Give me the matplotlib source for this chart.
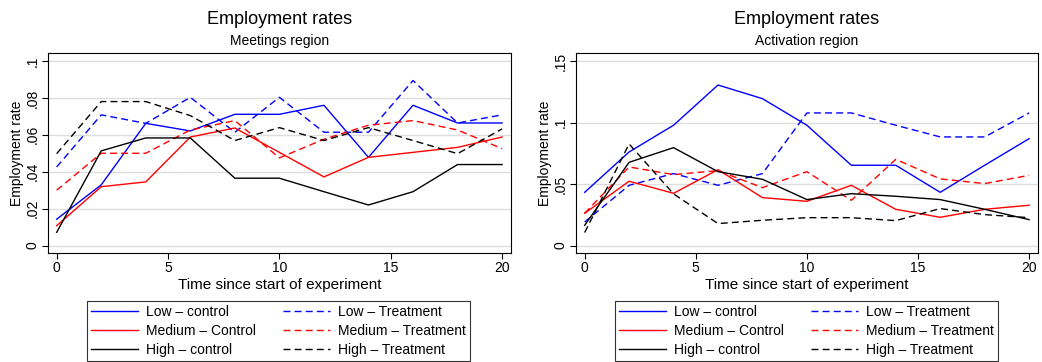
import matplotlib.pyplot as plt
import numpy as np

plt.rcParams['font.family'] = ['Liberation Sans', 'DejaVu Sans']

weeks = np.arange(0, 21, 2)

# Meetings region
meet_low_c = [0.0143, 0.0329, 0.0662, 0.0621, 0.0711, 0.0711, 0.0760, 0.0478, 0.0760, 0.0664, 0.0664]
meet_low_t = [0.0426, 0.0708, 0.0662, 0.0803, 0.0614, 0.0803, 0.0614, 0.0614, 0.0894, 0.0664, 0.0708]
meet_med_c = [0.0108, 0.0319, 0.0345, 0.0588, 0.0637, 0.0505, 0.0372, 0.0478, 0.0505, 0.0532, 0.0588]
meet_med_t = [0.0300, 0.0500, 0.0500, 0.0626, 0.0677, 0.0475, 0.0576, 0.0652, 0.0677, 0.0626, 0.0525]
meet_high_c = [0.0072, 0.0513, 0.0583, 0.0583, 0.0365, 0.0365, 0.0292, 0.0220, 0.0292, 0.0439, 0.0439]
meet_high_t = [0.0498, 0.0780, 0.0780, 0.0704, 0.0569, 0.0639, 0.0569, 0.0639, 0.0569, 0.0498, 0.0632]

# Activation region
act_low_c = [0.0433, 0.0761, 0.0978, 0.1305, 0.1194, 0.0978, 0.0653, 0.0653, 0.0433, 0.0653, 0.0869]
act_low_t = [0.0192, 0.0490, 0.0585, 0.0490, 0.0585, 0.1078, 0.1078, 0.0978, 0.0883, 0.0883, 0.1078]
act_med_c = [0.0263, 0.0523, 0.0425, 0.0617, 0.0390, 0.0360, 0.0490, 0.0295, 0.0230, 0.0295, 0.0328]
act_med_t = [0.0263, 0.0639, 0.0577, 0.0609, 0.0471, 0.0601, 0.0368, 0.0701, 0.0542, 0.0504, 0.0571]
act_high_c = [0.0165, 0.0677, 0.0796, 0.0601, 0.0539, 0.0374, 0.0422, 0.0401, 0.0374, 0.0295, 0.0211]
act_high_t = [0.0106, 0.0826, 0.0420, 0.0179, 0.0206, 0.0227, 0.0227, 0.0203, 0.0301, 0.0252, 0.0227]

labels = ['Low \u2013 control', 'Low \u2013 Treatment',
          'Medium \u2013 Control', 'Medium \u2013 Treatment',
          'High \u2013 control', 'High \u2013 Treatment']
colors = ['blue', 'blue', 'red', 'red', 'black', 'black']
styles = ['-', (0, (5, 3)), '-', (0, (5, 3)), '-', (0, (5, 3))]
# legend fills column by column: controls left, treatments right
leg_order = [0, 2, 4, 1, 3, 5]

W, H = 1042, 362
fig = plt.figure(figsize=(W / 100, H / 100), dpi=100)


def panel(left, right, subtitle, series, yticks, yticklabels, ylim, leg_left, leg_right):
    ax = fig.add_axes([left / W, 1 - 253 / H, (right - left) / W, 200 / H])
    for vals, c, ls, lab in zip(series, colors, styles, labels):
        ax.plot(weeks, vals, color=c, linestyle=ls, linewidth=1.0, label=lab)
    ax.set_xlim(-0.39, 20.4)
    ax.set_ylim(*ylim)
    ax.set_xticks([0, 5, 10, 15, 20])
    ax.set_yticks(yticks)
    ax.set_yticklabels(yticklabels, rotation=90, va='center')
    ax.tick_params(labelsize=10, direction='out', length=4, width=0.8, pad=2)
    ax.grid(axis='y', color='#dddddd', linewidth=1.0)
    ax.set_axisbelow(True)
    for s in ax.spines.values():
        s.set_linewidth(0.8)
    ax.set_ylabel('Employment rate', fontsize=10, labelpad=1)
    ax.set_xlabel('Time since start of experiment', fontsize=11, labelpad=2)
    cx = (left + right) / 2 / W
    fig.text(cx, 1 - 19 / H, 'Employment rates', ha='center', va='center', fontsize=13)
    fig.text(cx, 1 - 41 / H, subtitle, ha='center', va='center', fontsize=10)
    handles, labs = ax.get_legend_handles_labels()
    handles = [handles[i] for i in leg_order]
    labs = [labs[i] for i in leg_order]
    leg = fig.legend(handles, labs, ncol=2, loc='center',
                     bbox_to_anchor=((leg_left + leg_right) / 2 / W, 1 - 331 / H),
                     fontsize=10, frameon=True, fancybox=False,
                     handlelength=3.4, handletextpad=0.6, columnspacing=1.9,
                     labelspacing=0.38, borderpad=0.3, borderaxespad=0)
    leg.get_frame().set_edgecolor('black')
    leg.get_frame().set_linewidth(0.8)
    return ax


panel(48, 511, 'Meetings region',
      [meet_low_c, meet_low_t, meet_med_c, meet_med_t, meet_high_c, meet_high_t],
      [0, 0.02, 0.04, 0.06, 0.08, 0.1], ['0', '.02', '.04', '.06', '.08', '.1'],
      (-0.004, 0.1043), 89, 468)

panel(576, 1038, 'Activation region',
      [act_low_c, act_low_t, act_med_c, act_med_t, act_high_c, act_high_t],
      [0, 0.05, 0.1, 0.15], ['0', '.05', '.1', '.15'],
      (-0.006, 0.1565), 617, 996)

fig.savefig('out.png', dpi=100)
